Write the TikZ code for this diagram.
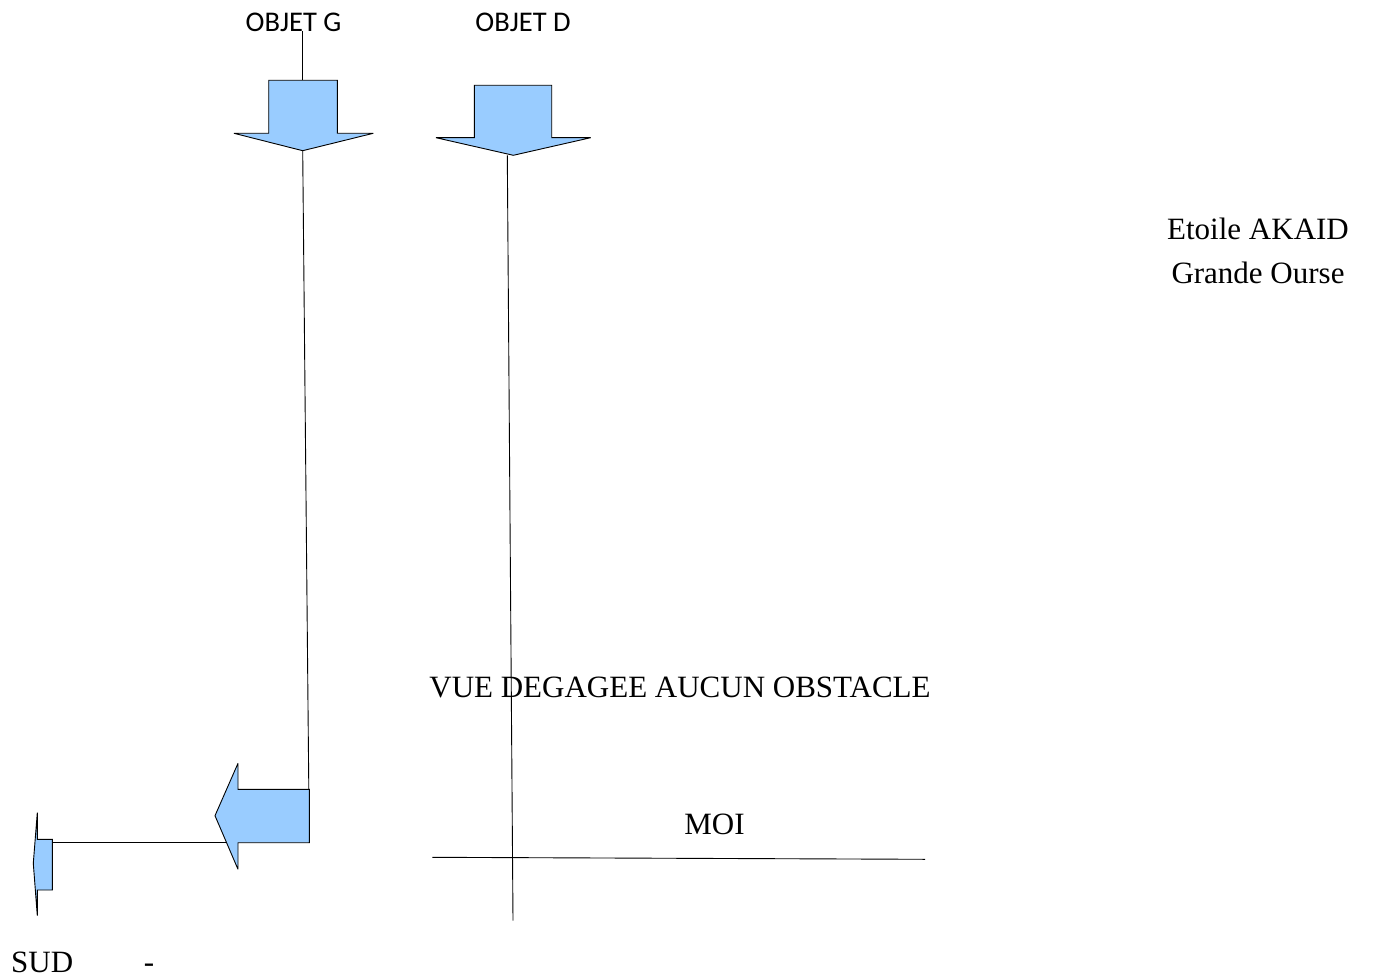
\documentclass[tikz,border=0pt]{standalone}
\usepackage{fontspec}
\setmainfont{Liberation Serif}
\newfontfamily\objfont{Carlito}
\begin{document}
\begin{tikzpicture}[x=1pt,y=-1pt,
  blockarrow/.style={draw=black,fill=arrowblue,line width=0.9pt,line join=miter,miter limit=2},
  conn/.style={draw=black,line width=0.9pt},
  serif/.style={font=\fontsize{31}{36}\selectfont,inner sep=0pt,anchor=base},
  objlabel/.style={font=\objfont\fontsize{28.5}{34}\selectfont,inner sep=0pt,anchor=base}]
\definecolor{arrowblue}{HTML}{99CCFF}
\useasboundingbox (0,0) rectangle (1373,979);
% labels
\node[objlabel] (objg) at (293.5,32) {OBJET G};
\node[objlabel] (objd) at (523,32) {OBJET D};
\node[serif] (etoile) at (1258,239) {Etoile AKAID};
\node[serif] (ourse) at (1258,283) {Grande Ourse};
\node[serif] (vue) at (680,697) {VUE DEGAGEE AUCUN OBSTACLE};
\node[serif] (moi) at (714.5,834) {MOI};
\node[serif,anchor=base west] (sud) at (11,972) {SUD};
\node[serif] (dash) at (149,972) {-};
% key points
\coordinate (gstemtop) at (302.7,31);
\coordinate (gtop) at (302.7,80.3);
\coordinate (gtip) at (302.7,150.7);
\coordinate (dtip) at (507.3,155.3);
\coordinate (dend) at (513,920.7);
\coordinate (lbody) at (308.8,789.3);
\coordinate (lline) at (227,842.7);
\coordinate (sbody) at (52.3,842.7);
\coordinate (moia) at (432.3,857.3);
\coordinate (moib) at (925,859.3);
% arrows
\path[blockarrow] (268.7,80.3) -- (337.3,80.3) -- (337.3,133.3) -- (373.3,133.3) -- (gtip) -- (234,133.3) -- (268.7,133.3) -- cycle;
\path[blockarrow] (474.3,85.3) -- (551.7,85.3) -- (551.7,137.7) -- (590.7,137.7) -- (513.3,155.3) -- (436,137.7) -- (474.3,137.7) -- cycle;
\path[blockarrow] (309.3,789.3) -- (309.3,842.7) -- (238,842.7) -- (238,869.3) -- (215,815.7) -- (238,763.3) -- (238,789.3) -- cycle;
\path[blockarrow] (52.3,839.3) -- (52.3,890) -- (37.3,890) -- (37.3,915.7) -- (33.3,863.3) -- (37.3,812.7) -- (37.3,839.3) -- cycle;
% connectors
\draw[conn] (gstemtop) -- (gtop);
\draw[conn] (gtip) -- (lbody);
\draw[conn] (lline) -- (sbody);
\draw[conn] (dtip) -- (dend);
\draw[conn] (moia) -- (moib);
\end{tikzpicture}
\end{document}
